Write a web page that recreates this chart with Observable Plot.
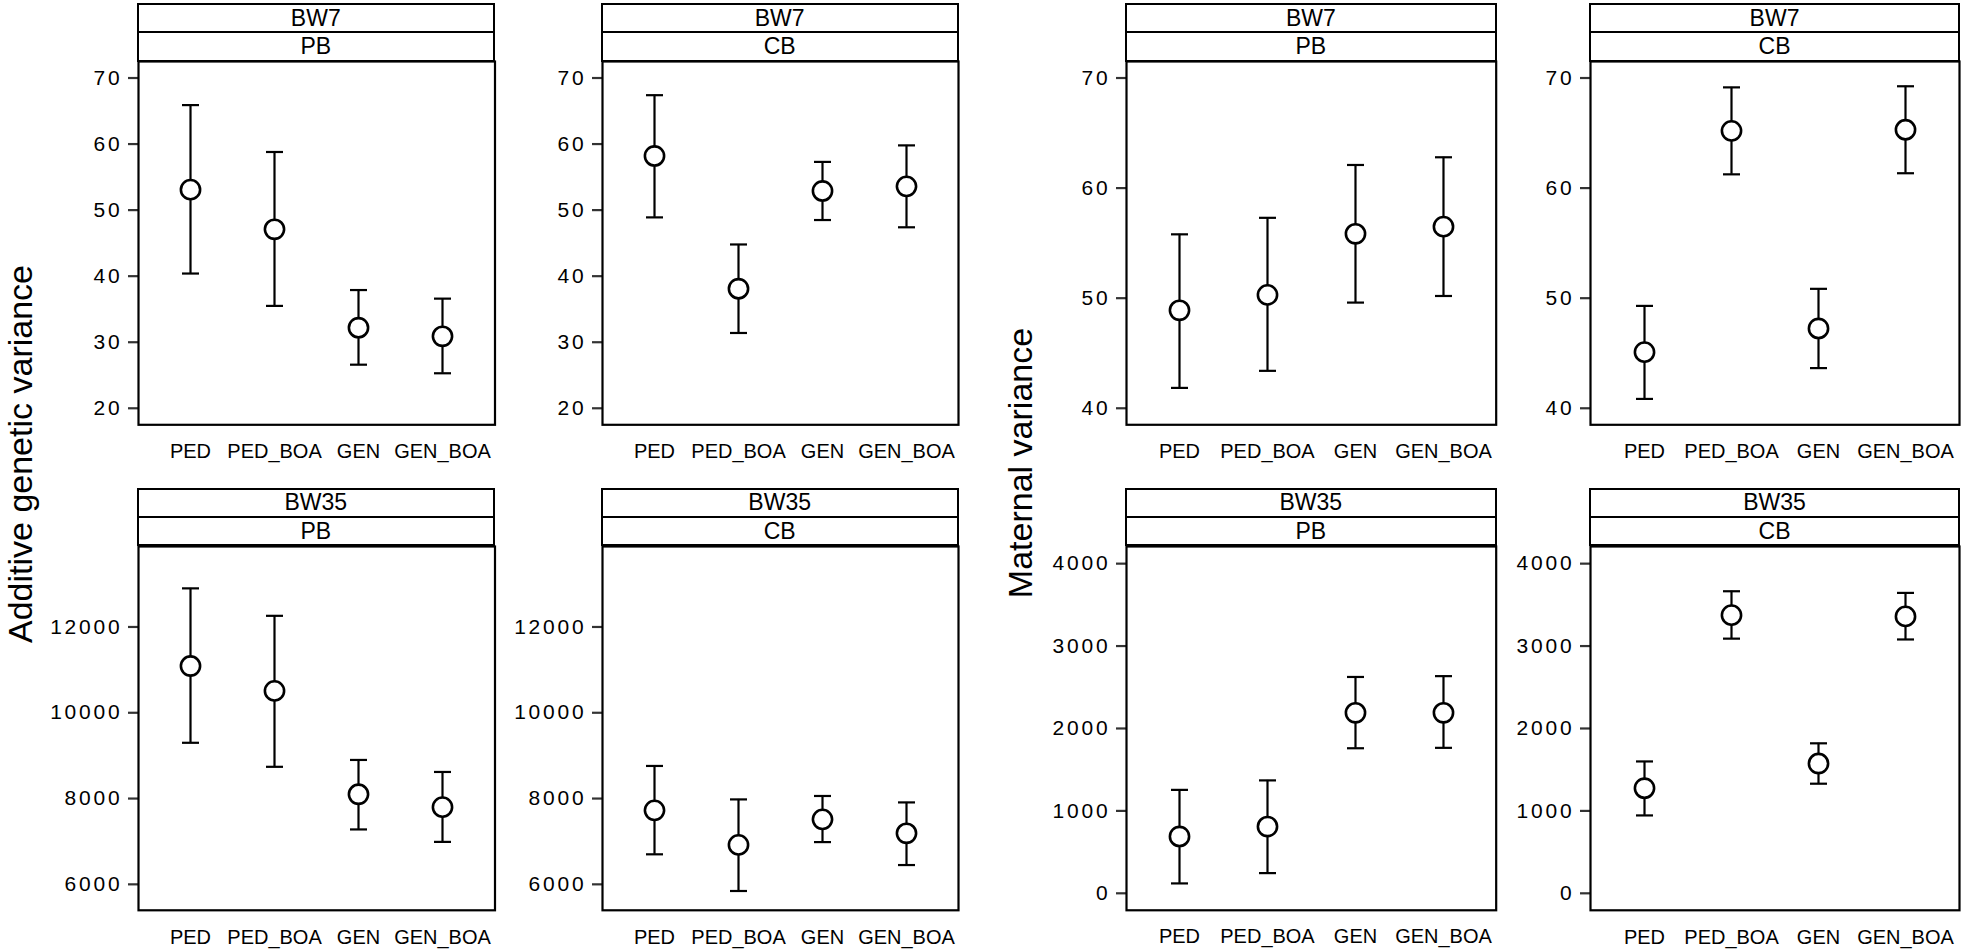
<!DOCTYPE html>
<html><head><meta charset="utf-8">
<script src="https://cdn.jsdelivr.net/npm/d3@7"></script>
<script src="https://cdn.jsdelivr.net/npm/@observablehq/plot@0.6"></script>
<style>
html,body{margin:0;padding:0;background:#fff;}
#root{position:relative;width:1961px;height:949px;overflow:hidden;font-family:"Liberation Sans",Arial,Helvetica,sans-serif;color:#000;}
.panel{position:absolute;}
.strip{position:absolute;box-sizing:border-box;border:2px solid #000;background:#fff;text-align:center;font-size:23px;color:#000;}
.ytitle{position:absolute;font-size:34px;line-height:40px;white-space:nowrap;transform:translate(-50%,-50%) rotate(-90deg);}
g[aria-label="y-axis tick label"] text{letter-spacing:2.8px;}
</style></head><body><div id="root"></div>
<script>
// ---------- data ----------
const methods = ["PED", "PED_BOA", "GEN", "GEN_BOA"];

// Additive genetic variance
const addBW7PB_est = [53.1, 47.1, 32.2, 30.9];
const addBW7PB_lo  = [40.4, 35.5, 26.6, 25.3];
const addBW7PB_hi  = [65.9, 58.8, 37.9, 36.6];

const addBW7CB_est = [58.2, 38.1, 52.9, 53.6];
const addBW7CB_lo  = [48.9, 31.4, 48.5, 47.4];
const addBW7CB_hi  = [67.4, 44.8, 57.3, 59.8];

const addBW35PB_est = [11090, 10510, 8100, 7800];
const addBW35PB_lo  = [9300, 8740, 7280, 6990];
const addBW35PB_hi  = [12900, 12260, 8900, 8620];

const addBW35CB_est = [7725, 6920, 7515, 7190];
const addBW35CB_lo  = [6700, 5845, 6985, 6450];
const addBW35CB_hi  = [8760, 7980, 8060, 7910];

// Maternal variance
const matBW7PB_est = [48.9, 50.3, 55.85, 56.5];
const matBW7PB_lo  = [41.85, 43.4, 49.6, 50.2];
const matBW7PB_hi  = [55.8, 57.3, 62.1, 62.8];

const matBW7CB_est = [45.1, 65.2, 47.25, 65.3];
const matBW7CB_lo  = [40.85, 61.25, 43.65, 61.35];
const matBW7CB_hi  = [49.3, 69.15, 50.85, 69.25];

const matBW35PB_est = [690, 810, 2190, 2190];
const matBW35PB_lo  = [120, 245, 1760, 1765];
const matBW35PB_hi  = [1255, 1370, 2625, 2635];

const matBW35CB_est = [1275, 3375, 1575, 3360];
const matBW35CB_lo  = [945, 3090, 1330, 3080];
const matBW35CB_hi  = [1600, 3665, 1820, 3645];

// axis domains and ticks
const addBW7_domain = [17.5, 72.5];
const addBW7_ticks = [20, 30, 40, 50, 60, 70];
const addBW35_domain = [5395, 13876];
const addBW35_ticks = [6000, 8000, 10000, 12000];
const matBW7_domain = [38.5, 71.5];
const matBW7_ticks = [40, 50, 60, 70];
const matBW35_domain = [-206, 4208];
const matBW35_ticks = [0, 1000, 2000, 3000, 4000];

const traits = ["BW7", "BW35"];
const breeds = ["PB", "CB"];
const yTitles = ["Additive genetic variance", "Maternal variance"];

// ---------- layout ----------
const cols = [[137.5, 494], [601.7, 957.7], [1126, 1495.7], [1590, 1959]];
const rows = [
  {stripTop: 3.5, mid: 32.3, plotTop: 60.7, plotBottom: 424},
  {stripTop: 489, mid: 516.7, plotTop: 545.5, plotBottom: 909.3}
];

function table(est, lo, hi) {
  return methods.map((m, i) => ({method: m, est: est[i], lo: lo[i], hi: hi[i]}));
}

const panels = [
  {row: 0, col: 0, trait: traits[0], breed: breeds[0], data: table(addBW7PB_est, addBW7PB_lo, addBW7PB_hi), domain: addBW7_domain, ticks: addBW7_ticks},
  {row: 0, col: 1, trait: traits[0], breed: breeds[1], data: table(addBW7CB_est, addBW7CB_lo, addBW7CB_hi), domain: addBW7_domain, ticks: addBW7_ticks},
  {row: 1, col: 0, trait: traits[1], breed: breeds[0], data: table(addBW35PB_est, addBW35PB_lo, addBW35PB_hi), domain: addBW35_domain, ticks: addBW35_ticks},
  {row: 1, col: 1, trait: traits[1], breed: breeds[1], data: table(addBW35CB_est, addBW35CB_lo, addBW35CB_hi), domain: addBW35_domain, ticks: addBW35_ticks},
  {row: 0, col: 2, trait: traits[0], breed: breeds[0], data: table(matBW7PB_est, matBW7PB_lo, matBW7PB_hi), domain: matBW7_domain, ticks: matBW7_ticks},
  {row: 0, col: 3, trait: traits[0], breed: breeds[1], data: table(matBW7CB_est, matBW7CB_lo, matBW7CB_hi), domain: matBW7_domain, ticks: matBW7_ticks},
  {row: 1, col: 2, trait: traits[1], breed: breeds[0], data: table(matBW35PB_est, matBW35PB_lo, matBW35PB_hi), domain: matBW35_domain, ticks: matBW35_ticks},
  {row: 1, col: 3, trait: traits[1], breed: breeds[1], data: table(matBW35CB_est, matBW35CB_lo, matBW35CB_hi), domain: matBW35_domain, ticks: matBW35_ticks}
];

// horizontal cap symbol for error bars
const capSymbol = {
  draw(ctx, size) {
    const r = Math.sqrt(size / Math.PI);
    ctx.moveTo(-r, 0);
    ctx.lineTo(r, 0);
  }
};

const root = document.getElementById("root");
const mL = 110, mR = 3, mT = 3, mB = 45;
const FONT = '"Liberation Sans", Arial, Helvetica, sans-serif';

for (const p of panels) {
  const [x0, x1] = cols[p.col];
  const r = rows[p.row];
  const pw = x1 - x0, ph = r.plotBottom - r.plotTop;

  const chart = Plot.plot({
    width: pw + mL + mR,
    height: ph + mT + mB,
    marginLeft: mL, marginRight: mR, marginTop: mT, marginBottom: mB,
    style: {fontFamily: FONT, fontSize: "20px", color: "#000", background: "transparent", overflow: "visible"},
    x: {type: "point", domain: methods, padding: 0.6, label: null},
    y: {domain: p.domain, label: null},
    marks: [
      Plot.axisX({tickSize: 0, tickPadding: 19, fontSize: 20, label: null}),
      Plot.axisY({ticks: p.ticks, tickSize: 10, tickPadding: 6, stroke: "#333", strokeWidth: 2.2,
                  fontSize: 21, tickFormat: d => String(d), label: null}),
      Plot.ruleX(p.data, {x: "method", y1: "lo", y2: "hi", stroke: "#000", strokeWidth: 2.2}),
      Plot.dot(p.data, {x: "method", y: "lo", symbol: capSymbol, r: 8.5, stroke: "#000", strokeWidth: 2.2, fill: "none"}),
      Plot.dot(p.data, {x: "method", y: "hi", symbol: capSymbol, r: 8.5, stroke: "#000", strokeWidth: 2.2, fill: "none"}),
      Plot.dot(p.data, {x: "method", y: "est", r: 9.6, fill: "#fff", stroke: "#000", strokeWidth: 2.6}),
      Plot.frame({stroke: "#000", strokeWidth: 2.2})
    ]
  });
  chart.classList.add("panel");
  chart.style.left = (x0 - mL) + "px";
  chart.style.top = (r.plotTop - mT) + "px";
  root.appendChild(chart);

  // strips
  const s1 = document.createElement("div");
  s1.className = "strip";
  s1.textContent = p.trait;
  Object.assign(s1.style, {left: (x0 - 1) + "px", width: (pw + 2) + "px", top: (r.stripTop - 1) + "px",
    height: (r.mid - r.stripTop + 2) + "px", lineHeight: (r.mid - r.stripTop - 2) + "px"});
  root.appendChild(s1);
  const s2 = document.createElement("div");
  s2.className = "strip";
  s2.textContent = p.breed;
  Object.assign(s2.style, {left: (x0 - 1) + "px", width: (pw + 2) + "px", top: (r.mid - 1) + "px",
    height: (r.plotTop - r.mid + 2) + "px", lineHeight: (r.plotTop - r.mid - 2) + "px"});
  root.appendChild(s2);
}

// y titles
const titlePos = [[20, 453.5], [1020, 463]];
yTitles.forEach((t, i) => {
  const d = document.createElement("div");
  d.className = "ytitle";
  d.textContent = t;
  d.style.left = titlePos[i][0] + "px";
  d.style.top = titlePos[i][1] + "px";
  root.appendChild(d);
});
</script>
</body></html>
